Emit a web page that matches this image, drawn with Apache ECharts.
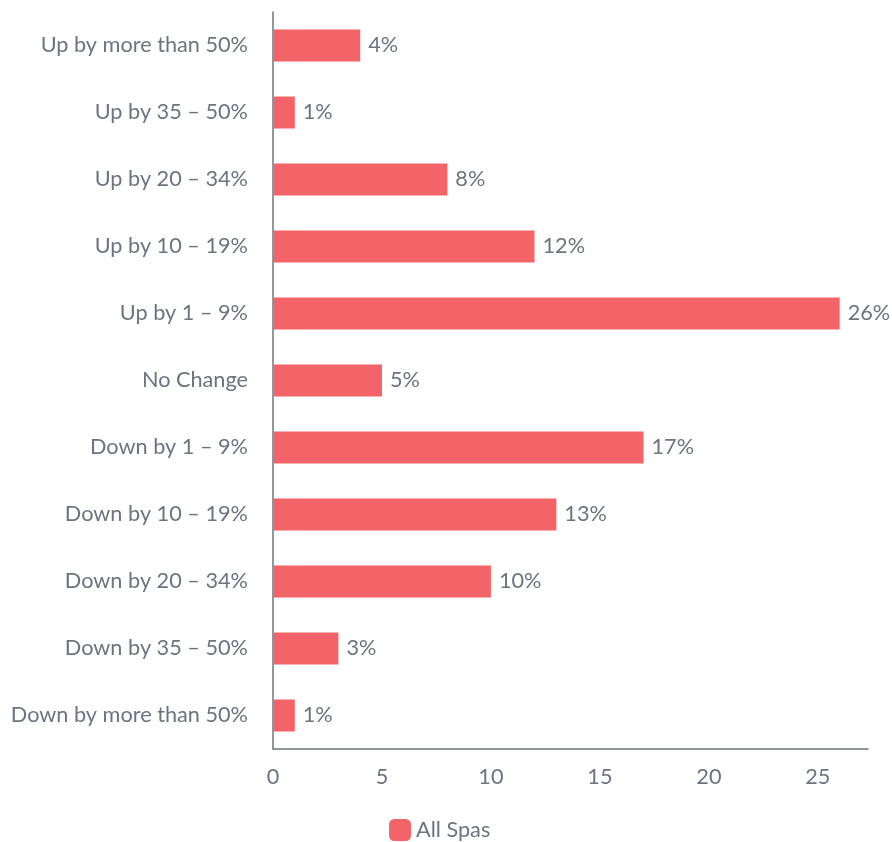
<!DOCTYPE html>
<html>
<head>
<meta charset="utf-8">
<script src="https://cdn.jsdelivr.net/npm/echarts@6/dist/echarts.min.js"></script>
<style>
html,body{margin:0;padding:0;background:#fff;}
#chart{width:892px;height:842px;}
</style>
</head>
<body>
<div id="chart"></div>
<script>
// categories, top to bottom
var categories = ['Up by more than 50%', 'Up by 35 – 50%', 'Up by 20 – 34%', 'Up by 10 – 19%', 'Up by 1 – 9%',
	'No Change', 'Down by 1 – 9%', 'Down by 10 – 19%', 'Down by 20 – 34%', 'Down by 35 – 50%', 'Down by more than 50%'];
var allSpas = [4, 1, 8, 12, 26, 5, 17, 13, 10, 3, 1];
var seriesName = 'All Spas';

var TEXT = '#6b7480';
var AXIS = '#6e7480';
var BAR = '#f26468';
var FS = 21.7;

var myChart = echarts.init(document.getElementById('chart'));
var option = {
	animation: false,
	textStyle: {fontFamily: 'Lato'},
	grid: {left: 273, right: 24, top: 12, bottom: 93, containLabel: false},
	legend: {
		data: [seriesName],
		top: 814,
		left: 384,
		itemWidth: 22,
		itemHeight: 22,
		itemGap: 9,
		icon: 'roundRect',
		textStyle: {color: TEXT, fontSize: FS, fontFamily: 'Lato'}
	},
	xAxis: {
		type: 'value',
		min: 0,
		max: 27.3,
		interval: 5,
		splitLine: {show: false},
		axisTick: {show: false},
		axisLine: {show: true, lineStyle: {color: AXIS, width: 1.5}},
		axisLabel: {color: TEXT, fontSize: FS, margin: 17, showMaxLabel: false, fontFamily: 'Lato'}
	},
	yAxis: {
		type: 'category',
		inverse: true,
		data: categories,
		axisTick: {show: false},
		axisLine: {show: true, lineStyle: {color: AXIS, width: 1.5}},
		axisLabel: {color: TEXT, fontSize: FS, margin: 25, fontFamily: 'Lato'}
	},
	series: [{
		name: seriesName,
		type: 'bar',
		data: allSpas,
		barWidth: 32,
		itemStyle: {color: BAR},
		label: {
			show: true,
			position: 'right',
			distance: 8,
			formatter: '{c}%',
			color: TEXT,
			fontSize: FS,
			fontFamily: 'Lato'
		}
	}]
};
myChart.setOption(option);
</script>
</body>
</html>
